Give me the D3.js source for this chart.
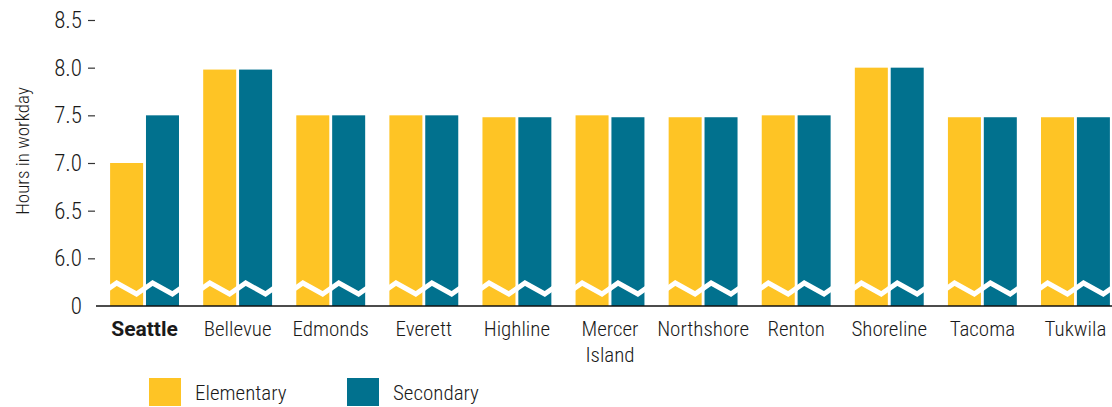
<!DOCTYPE html>
<html>
<head>
<meta charset="utf-8">
<script src="https://cdn.jsdelivr.net/npm/d3@7"></script>
<style>
  body { margin: 0; background: #fff; }
  svg text { font-family: "Liberation Sans Narrow", "Roboto Condensed", "DejaVu Sans Condensed", sans-serif; font-stretch: condensed; fill: #1a1a1a; }
</style>
</head>
<body>
<svg id="chart" width="1112" height="407"></svg>
<script>
// district names and workday hours
const districts = ["Seattle", "Bellevue", "Edmonds", "Everett", "Highline", "Mercer Island",
                   "Northshore", "Renton", "Shoreline", "Tacoma", "Tukwila"];
const elementary = [7.0, 7.98, 7.5, 7.5, 7.48, 7.5, 7.48, 7.5, 8.0, 7.48, 7.48];
const secondary  = [7.5, 7.98, 7.5, 7.5, 7.48, 7.48, 7.48, 7.5, 8.0, 7.48, 7.48];
const levels = ["Elementary", "Secondary"];
const tickValues = [5.5, 6.0, 6.5, 7.0, 7.5, 8.0, 8.5];
const tickLabels = ["0", "6.0", "6.5", "7.0", "7.5", "8.0", "8.5"];

const colors = { Elementary: "#fec425", Secondary: "#01718e" };

const svg = d3.select("#chart");

// scales
const x0 = d3.scaleBand().domain(districts).range([98, 1122])
    .paddingInner(0.26).paddingOuter(0.13);
const x1 = d3.scaleBand().domain(levels).range([0, x0.bandwidth()]).paddingInner(0.08);
const y = d3.scaleLinear().domain([5.5, 8.5]).range([306, 20]);

const rows = districts.map((d, i) => ({ district: d, Elementary: elementary[i], Secondary: secondary[i] }));

// bars
const groups = svg.append("g").selectAll("g")
    .data(rows).enter().append("g")
    .attr("transform", d => `translate(${x0(d.district)},0)`);

groups.selectAll("rect")
    .data(d => levels.map(k => ({ key: k, value: d[k] })))
    .enter().append("rect")
    .attr("x", d => x1(d.key))
    .attr("y", d => y(d.value))
    .attr("width", x1.bandwidth())
    .attr("height", d => y(5.5) - y(d.value))
    .attr("fill", d => colors[d.key]);

// axis break zigzag on each bar
const yb = y(5.5) - 18;
groups.selectAll("polyline")
    .data(levels).enter().append("polyline")
    .attr("points", k => {
        const bx = x1(k), w = x1.bandwidth();
        return [[bx - 2, yb + 1], [bx + w * 0.2, yb - 5], [bx + w * 0.8, yb + 6], [bx + w + 2, yb]]
            .map(p => p.join(",")).join(" ");
    })
    .attr("fill", "none")
    .attr("stroke", "#fff")
    .attr("stroke-width", 5);

// baseline
svg.append("line")
    .attr("x1", 96).attr("x2", 1112)
    .attr("y1", y(5.5)).attr("y2", y(5.5))
    .attr("stroke", "#111").attr("stroke-width", 1.6);

// y axis
const yAxis = d3.axisLeft(y)
    .tickValues(tickValues)
    .tickFormat((d, i) => tickLabels[i])
    .tickSize(7)
    .tickPadding(6);

const yg = svg.append("g").attr("transform", "translate(95,0)").call(yAxis);
yg.select(".domain").remove();
yg.selectAll(".tick line").attr("stroke", "#333").attr("stroke-width", 1.2)
    .filter(d => d === 5.5).remove();
yg.selectAll(".tick text").style("font-size", "23px").style("font-weight", "300").attr("fill", "#1a1a1a")
    .filter(d => d === 5.5).attr("x", -13);

svg.append("text")
    .attr("transform", "translate(29,151) rotate(-90)")
    .attr("text-anchor", "middle")
    .style("font-size", "19px")
    .style("font-weight", "300")
    .text("Hours in workday");

// x labels
const xl = svg.append("g").selectAll("text")
    .data(districts).enter().append("text")
    .attr("x", d => x0(d) + x0.bandwidth() / 2)
    .attr("y", 336)
    .attr("text-anchor", "middle")
    .style("font-size", "21px")
    .style("font-weight", d => d === "Seattle" ? "bold" : "300")
    .style("font-family", d => d === "Seattle" ? "Roboto, sans-serif" : null)
    .style("font-stretch", d => d === "Seattle" ? "normal" : null);

xl.each(function(d) {
    const parts = d.split(" ");
    const t = d3.select(this);
    parts.forEach((p, i) => {
        t.append("tspan").attr("x", x0(d) + x0.bandwidth() / 2)
            .attr("dy", i === 0 ? 0 : 26).text(p);
    });
});

// legend
const legendX = d3.scaleOrdinal().domain(levels).range([149, 347]);
const lg = svg.append("g").selectAll("g")
    .data(levels).enter().append("g")
    .attr("transform", d => `translate(${legendX(d)},378)`);
lg.append("rect").attr("width", 32).attr("height", 28).attr("fill", d => colors[d]);
lg.append("text").attr("x", 46).attr("y", 22)
    .style("font-size", "21px").style("font-weight", "300").text(d => d);
</script>
</body>
</html>
